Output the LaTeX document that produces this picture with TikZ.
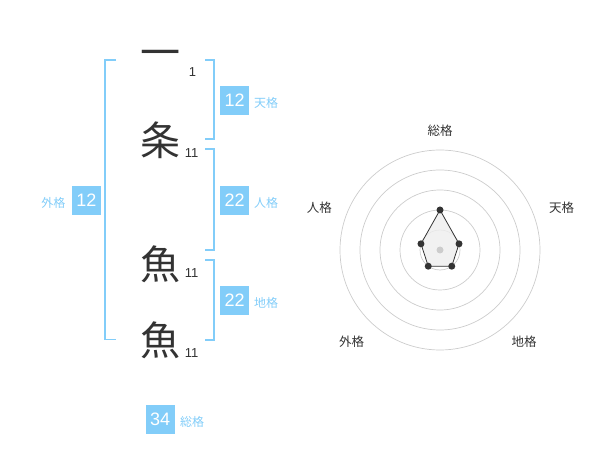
\documentclass[tikz,border=0pt]{standalone}
\usepackage{fontspec}
\setmainfont{Liberation Sans}
\newfontfamily\cjk{Noto Sans CJK JP}
\definecolor{kblue}{HTML}{82CDF9}
\definecolor{ink}{HTML}{333333}
\definecolor{ring}{HTML}{CCCCCC}
\definecolor{polyfill}{HTML}{EEEEEE}
\begin{document}
\begin{tikzpicture}[x=1pt,y=-1pt,
  bigchar/.style={inner sep=0pt,text=ink,font=\cjk\fontsize{40}{40}\selectfont},
  strokes/.style={inner sep=0pt,text=ink,font=\fontsize{13}{13}\selectfont},
  numbox/.style={fill=kblue,text=white,minimum width=29pt,minimum height=29pt,inner sep=0pt,font=\fontsize{18}{18}\selectfont},
  kakulabel/.style={inner sep=0pt,text=kblue,font=\cjk\fontsize{12}{12}\selectfont},
  bracket/.style={draw=kblue,line width=1.8pt},
  radarlabel/.style={inner sep=0pt,text=ink,font=\cjk\fontsize{12.5}{12.5}\selectfont},
  ringline/.style={draw=ring,line width=0.7pt},
  dot/.style={circle,fill=ink,inner sep=0pt,minimum size=7pt},
  cdot/.style={circle,fill=ring,inner sep=0pt,minimum size=7pt}]
\useasboundingbox (0,0) rectangle (600,470);
% characters
\node[bigchar] (c1) at (160,58.7) {一};
\node[bigchar] (c2) at (160,140) {条};
\node[bigchar] (c3) at (160,264) {魚};
\node[bigchar] (c4) at (160,340) {魚};
\node[strokes] (s1) at (192.5,72.5) {1};
\node[strokes] (s2) at (191.7,153.3) {11};
\node[strokes] (s3) at (191.7,272.7) {11};
\node[strokes] (s4) at (191.7,352.7) {11};
% brackets
\coordinate (ga) at (116,60); \coordinate (gb) at (105,60);
\coordinate (gc) at (105,339.5); \coordinate (gd) at (116,339.5);
\draw[bracket] (ga) -- (gb) -- (gc) -- (gd);
\coordinate (ta) at (205,60); \coordinate (tb) at (214.3,60);
\coordinate (tc) at (214.3,139.3); \coordinate (td) at (205,139.3);
\draw[bracket] (ta) -- (tb) -- (tc) -- (td);
\coordinate (ja) at (205,149.3); \coordinate (jb) at (214.3,149.3);
\coordinate (jc) at (214.3,250); \coordinate (jd) at (205,250);
\draw[bracket] (ja) -- (jb) -- (jc) -- (jd);
\coordinate (ca) at (205,260); \coordinate (cb) at (214.3,260);
\coordinate (cc) at (214.3,340); \coordinate (cd) at (205,340);
\draw[bracket] (ca) -- (cb) -- (cc) -- (cd);
% boxes
\node[numbox] (ten) at (234.7,100.3) {12};
\node[kakulabel,anchor=west] (tenl) at (254,102.5) {天格};
\node[numbox] (jin) at (234.7,200.3) {22};
\node[kakulabel,anchor=west] (jinl) at (254,202.5) {人格};
\node[numbox] (chi) at (234.7,300.3) {22};
\node[kakulabel,anchor=west] (chil) at (254,302.5) {地格};
\node[numbox] (gai) at (86.5,200.3) {12};
\node[kakulabel,anchor=east] (gail) at (65.5,202.5) {外格};
\node[numbox] (sou) at (160.2,419.2) {34};
\node[kakulabel,anchor=west] (soul) at (180,422) {総格};
% radar
\coordinate (o) at (440,250);
\foreach \r in {20,40,60,80,100} \draw[ringline] (o) circle (\r);
\coordinate (p1) at (440,210);
\coordinate (p2) at (459.02,243.82);
\coordinate (p3) at (451.76,266.18);
\coordinate (p4) at (428.24,266.18);
\coordinate (p5) at (420.98,243.82);
\draw[draw=ink,line width=0.8pt,fill=polyfill,fill opacity=0.8] (p1) -- (p2) -- (p3) -- (p4) -- (p5) -- cycle;
\node[cdot] (oc) at (o) {};
\foreach \p in {p1,p2,p3,p4,p5} \node[dot] at (\p) {};
\node[radarlabel] (lsou) at (440,130.7) {総格};
\node[radarlabel] (lten) at (561.7,208) {天格};
\node[radarlabel] (ljin) at (319.3,208) {人格};
\node[radarlabel] (lgai) at (351.7,342) {外格};
\node[radarlabel] (lchi) at (524,342) {地格};
\end{tikzpicture}
\end{document}
